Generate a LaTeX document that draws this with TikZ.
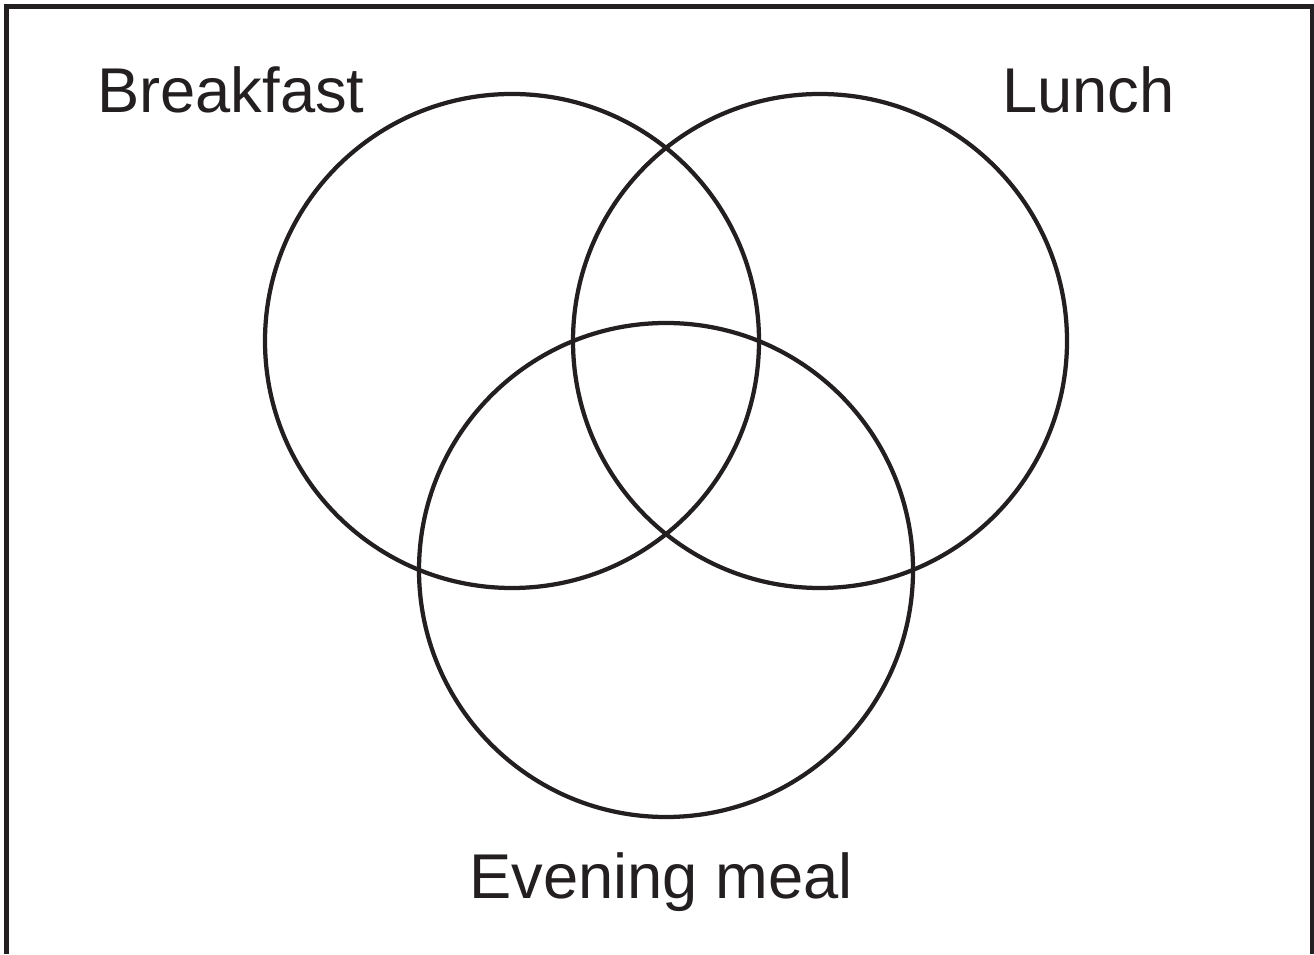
\documentclass[tikz,border=0pt]{standalone}
\usepackage{fontspec}
\setmainfont{Liberation Sans}
\usepackage{tikz}
\usetikzlibrary{calc}
\definecolor{vline}{RGB}{ 35, 31, 32}
\definecolor{tcol} {RGB}{ 35, 31, 32}
\tikzset{
  FR/.style={draw=vline, line width=0.1cm},
  VC/.style={draw=vline, line width=0.085cm},
  LB/.style={tcol, anchor=base west, inner sep=0pt,
             font=\fontsize{36}{43}\selectfont},
}
\newcommand{\RR}{4.94}
\begin{document}
\begin{tikzpicture}

\useasboundingbox (0,0) rectangle (26.28,19.08);

%% ================================================================
%%  FRAME (open at the foot)
%% ================================================================
\draw[FR] (0.13,0) -- (0.13,18.95) -- (26.24,18.95) -- (26.24,0);

%% ================================================================
%%  SETS
%% ================================================================
\coordinate (cB) at (10.24,12.26);
\coordinate (cL) at (16.40,12.26);
\coordinate (cE) at (13.32, 7.68);

% breakfast
\draw[VC] (cB) circle [radius=\RR];
% lunch
\draw[VC] (cL) circle [radius=\RR];
% evening meal
\draw[VC] (cE) circle [radius=\RR];

%% ================================================================
%%  LABELS
%% ================================================================
\node[LB] (breakfast) at (1.94,16.82) {Breakfast};
\node[LB] (lunch)     at (20.04,16.82) {Lunch};
\node[LB] (evening)   at (9.38,1.12) {Evening meal};

\end{tikzpicture}
\end{document}
